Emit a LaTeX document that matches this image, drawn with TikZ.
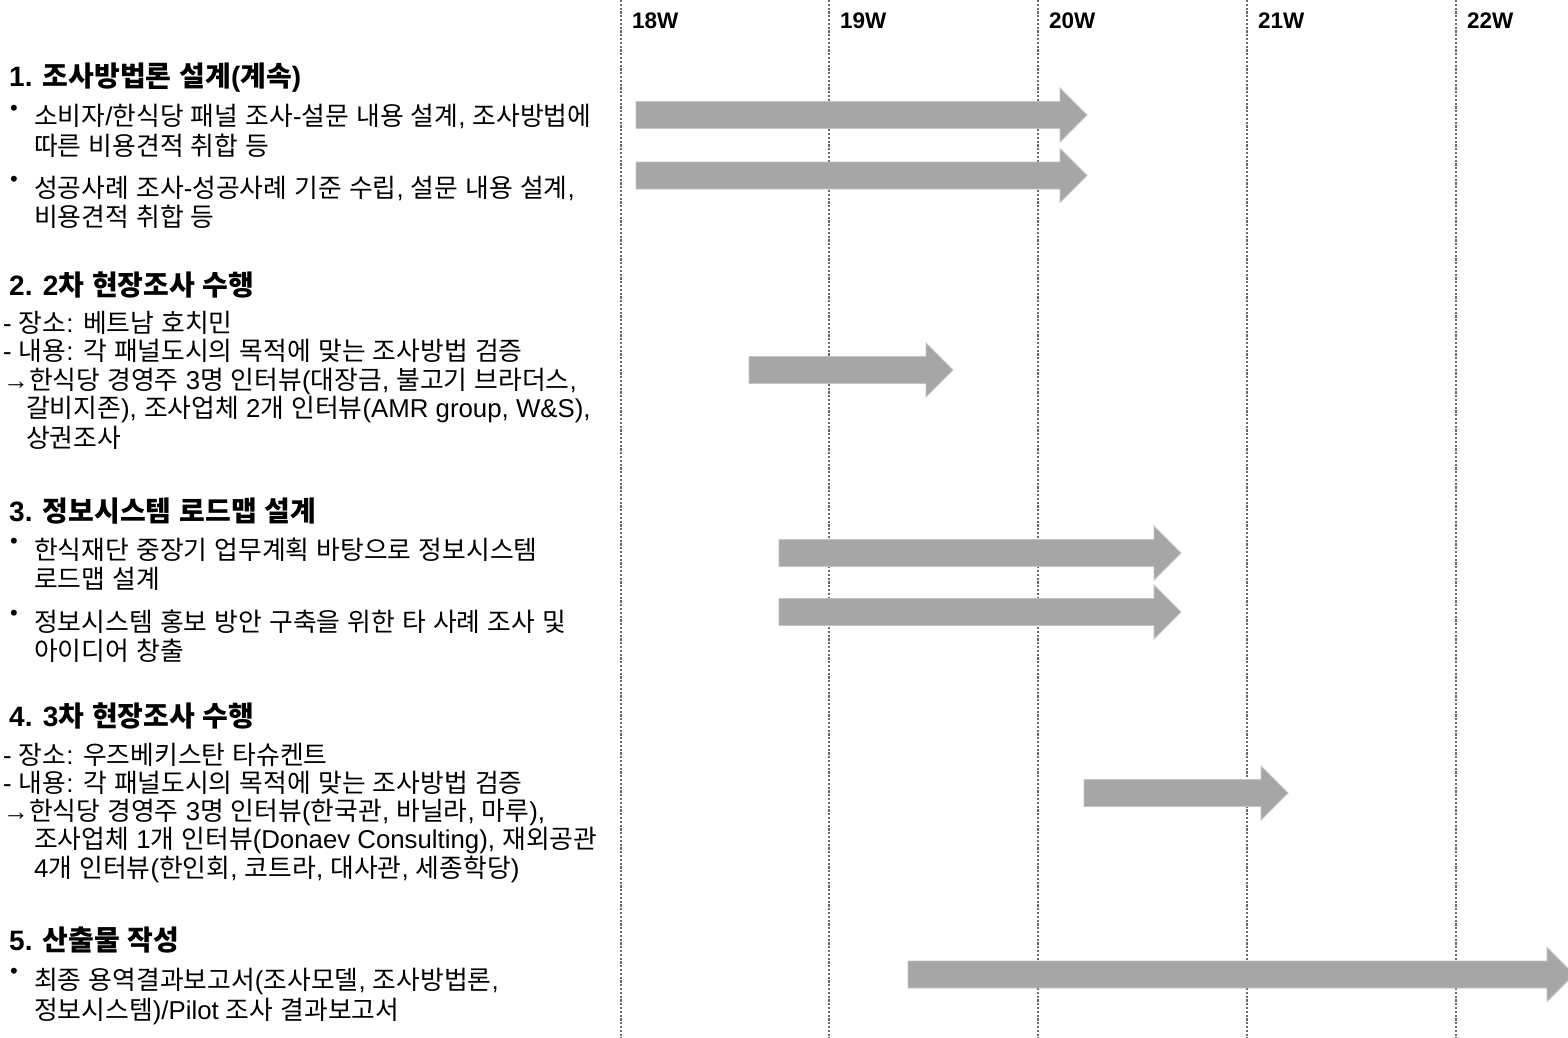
\documentclass[tikz,border=0pt]{standalone}
\usepackage{fontspec}
\setmainfont{Liberation Sans}
\newfontfamily\latfont{Liberation Sans}
\newfontfamily\krfont{Noto Sans CJK KR}
\XeTeXinterchartokenstate=1
\newXeTeXintercharclass\krclass
\newcount\hcnt
\hcnt="AC00
\loop
  \XeTeXcharclass\hcnt=\krclass
  \ifnum\hcnt<"D7A3 \advance\hcnt by 1
\repeat
\XeTeXinterchartoks 0 \krclass = {\krfont}
\XeTeXinterchartoks 4095 \krclass = {\krfont}
\XeTeXinterchartoks \krclass 0 = {\latfont}
\XeTeXinterchartoks \krclass 4095 = {\latfont}
\definecolor{barfill}{HTML}{A6A6A6}
\definecolor{baredge}{HTML}{C4C4C4}
\definecolor{gridc}{HTML}{6A6A6A}
\tikzset{
  wk/.style={font=\fontsize{22.5}{22}\selectfont\bfseries, anchor=base west, inner sep=0pt},
  hd/.style={font=\fontsize{28}{32}\selectfont\bfseries, anchor=base west, inner sep=0pt},
  bd/.style={font=\fontsize{25.8}{30}\selectfont, anchor=base west, inner sep=0pt},
  bl/.style={font=\fontsize{22}{22}\selectfont, anchor=center, inner sep=0pt},
  gridline/.style={draw=gridc, line width=2pt, dash pattern=on 2.2pt off 1.6pt},
  bar/.style={fill=barfill, draw=baredge, line width=0.8pt},
}
\newcommand\gbar[4]{%
  \coordinate (#1-s) at (#2,#4);
  \coordinate (#1-e) at (#3,#4);
  \draw[bar] (#2,#4-13.5) -- (#3-27,#4-13.5) -- (#3-27,#4-27) -- (#1-e)
    -- (#3-27,#4+27) -- (#3-27,#4+13.5) -- (#2,#4+13.5) -- cycle;
}
\begin{document}
\begin{tikzpicture}[x=1pt,y=-1pt]
\useasboundingbox[fill=white] (0,0) rectangle (1568,1038);
% week grid
\foreach \i/\x/\w in {1/621/18W,2/829/19W,3/1038/20W,4/1247/21W,5/1456/22W}{
  \coordinate (gt\i) at (\x,0);
  \coordinate (gb\i) at (\x,1038);
  \draw[gridline] (gt\i) -- (gb\i);
  \node[wk] (w\i) at (\x+11,29) {\w};
}
% bars
\gbar{a1}{636}{1087}{115}
\gbar{a2}{636}{1087}{175.5}
\gbar{a3}{749}{953}{370}
\gbar{a4}{779}{1181}{553}
\gbar{a5}{779}{1181}{612}
\gbar{a6}{1084}{1288}{793}
\gbar{a7}{908}{1574}{974.5}
% section 1
\node[hd] (h1) at (9,87) {1. 조사방법론 설계(계속)};
\node[bl] (b11) at (14,110) {•};
\node[bd] (t11) at (34,126) {소비자/한식당 패널 조사-설문 내용 설계, 조사방법에};
\node[bd] (t12) at (34,155) {따른 비용견적 취합 등};
\node[bl] (b12) at (14,181) {•};
\node[bd] (t13) at (34,197) {성공사례 조사-성공사례 기준 수립, 설문 내용 설계,};
\node[bd] (t14) at (34,226) {비용견적 취합 등};
% section 2
\node[hd] (h2) at (9,295) {2. 2차 현장조사 수행};
\node[bd] (t21) at (3,332) {- 장소: 베트남 호치민};
\node[bd] (t22) at (3,360.5) {- 내용: 각 패널도시의 목적에 맞는 조사방법 검증};
\node[bd] (t23) at (3,389) {→한식당 경영주 3명 인터뷰(대장금, 불고기 브라더스,};
\node[bd] (t24) at (26,417.5) {갈비지존), 조사업체 2개 인터뷰(AMR group, W\&S),};
\node[bd] (t25) at (26,447) {상권조사};
% section 3
\node[hd] (h3) at (9,521) {3. 정보시스템 로드맵 설계};
\node[bl] (b31) at (14,543) {•};
\node[bd] (t31) at (34,559) {한식재단 중장기 업무계획 바탕으로 정보시스템};
\node[bd] (t32) at (34,588) {로드맵 설계};
\node[bl] (b32) at (14,615) {•};
\node[bd] (t33) at (34,631) {정보시스템 홍보 방안 구축을 위한 타 사례 조사 및};
\node[bd] (t34) at (34,660) {아이디어 창출};
% section 4
\node[hd] (h4) at (9,726) {4. 3차 현장조사 수행};
\node[bd] (t41) at (3,764) {- 장소: 우즈베키스탄 타슈켄트};
\node[bd] (t42) at (3,792) {- 내용: 각 패널도시의 목적에 맞는 조사방법 검증};
\node[bd] (t43) at (3,820) {→한식당 경영주 3명 인터뷰(한국관, 바닐라, 마루),};
\node[bd] (t44) at (34,848) {조사업체 1개 인터뷰(Donaev Consulting), 재외공관};
\node[bd] (t45) at (34,877) {4개 인터뷰(한인회, 코트라, 대사관, 세종학당)};
% section 5
\node[hd] (h5) at (9,950) {5. 산출물 작성};
\node[bl] (b51) at (14,973) {•};
\node[bd] (t51) at (34,989) {최종 용역결과보고서(조사모델, 조사방법론,};
\node[bd] (t52) at (34,1019) {정보시스템)/Pilot 조사 결과보고서};
\end{tikzpicture}
\end{document}
